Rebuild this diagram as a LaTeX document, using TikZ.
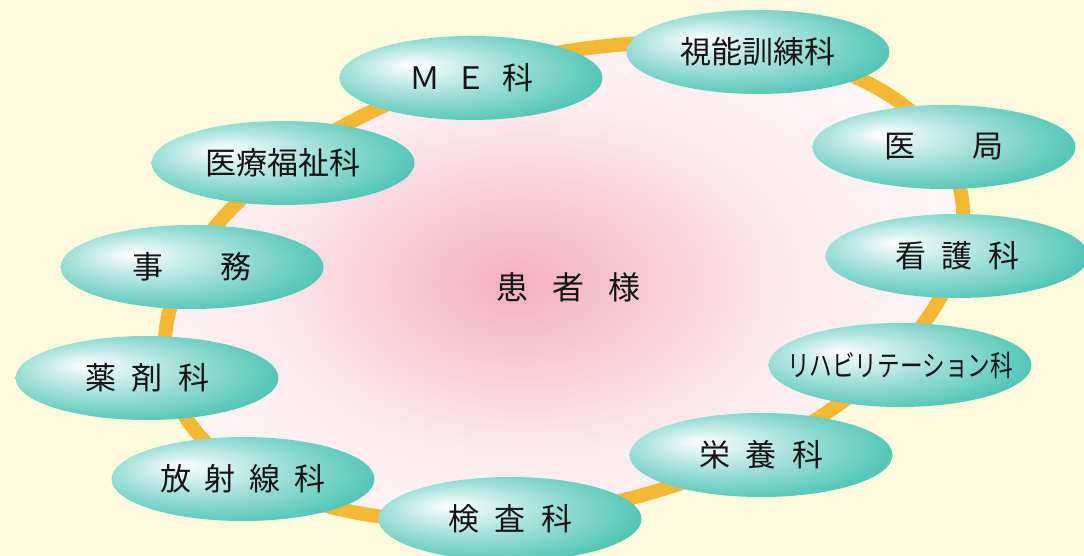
\documentclass[tikz,border=0pt]{standalone}
\usepackage{fontspec}
\usepackage{graphicx}
\newfontfamily\jp{Noto Sans CJK JP}
\usetikzlibrary{shapes.geometric}
\definecolor{bgc}{RGB}{255,251,222}
\definecolor{ringc}{RGB}{245,184,52}
\definecolor{tealc}{RGB}{40,184,166}
\definecolor{pinkc}{RGB}{245,176,190}
\definecolor{txtc}{RGB}{20,20,20}
\pgfdeclareradialshading{tealglow}{\pgfpoint{-12bp}{8bp}}{color(0bp)=(white); color(2bp)=(tealc!6!white); color(16bp)=(tealc!45!white); color(32bp)=(tealc!85!white); color(42bp)=(tealc); color(50bp)=(tealc)}
\pgfdeclareradialshading{pinkglow}{\pgfpoint{-3bp}{0bp}}{color(0bp)=(pinkc); color(6bp)=(pinkc!72!white); color(16bp)=(pinkc!25!white); color(28bp)=(pinkc!7!white); color(50bp)=(pinkc!3!white)}
\begin{document}
\begin{tikzpicture}[x=1pt,y=1pt,
  dept/.style={ellipse, minimum width=263pt, minimum height=84pt, inner sep=0pt,
    shading=tealglow, font=\jp\fontsize{31}{31}\selectfont, text=txtc},
  centertext/.style={font=\jp\fontsize{32}{32}\selectfont, text=txtc},
  ring/.style={draw=ringc, line width=14pt}
]
\useasboundingbox (0,0) rectangle (1084,556);
\clip (0,0) rectangle (1084,556);
\fill[bgc] (0,0) rectangle (1084,556);
\shade[shading=pinkglow, rotate around={13.5:(564,274)}] (564,274) ellipse [x radius=407, y radius=226];
\path[ring, rotate around={13.5:(564,274)}] (564,274) ellipse [x radius=407, y radius=226];

\node[centertext] (patient) at (568,269) {患\hspace{.75em}者\hspace{.75em}様};

\node[dept] (me) at (471,478) {Ｍ\hspace{.5em}Ｅ\hspace{.5em}科};
\node[dept] (orth) at (758,504) {視能訓練科};
\node[dept] (doc) at (944,409) {医\hspace{1.85em}局};
\node[dept] (nurse) at (957,300) {看\hspace{.5em}護\hspace{.5em}科};
\node[dept] (reha) at (900,191) {\makebox[150pt][c]{\scalebox{0.78}[1]{\fontsize{29}{29}\selectfont リハビリテーション科}}};
\node[dept] (nutr) at (761,101) {栄\hspace{.5em}養\hspace{.5em}科};
\node[dept] (lab) at (510,37) {検\hspace{.5em}査\hspace{.5em}科};
\node[dept] (rad) at (243,77) {放\hspace{.45em}射\hspace{.45em}線\hspace{.45em}科};
\node[dept] (pharm) at (147,178) {薬\hspace{.5em}剤\hspace{.5em}科};
\node[dept] (office) at (192,289) {事\hspace{1.85em}務};
\node[dept] (social) at (283,393) {医療福祉科};
\end{tikzpicture}
\end{document}
